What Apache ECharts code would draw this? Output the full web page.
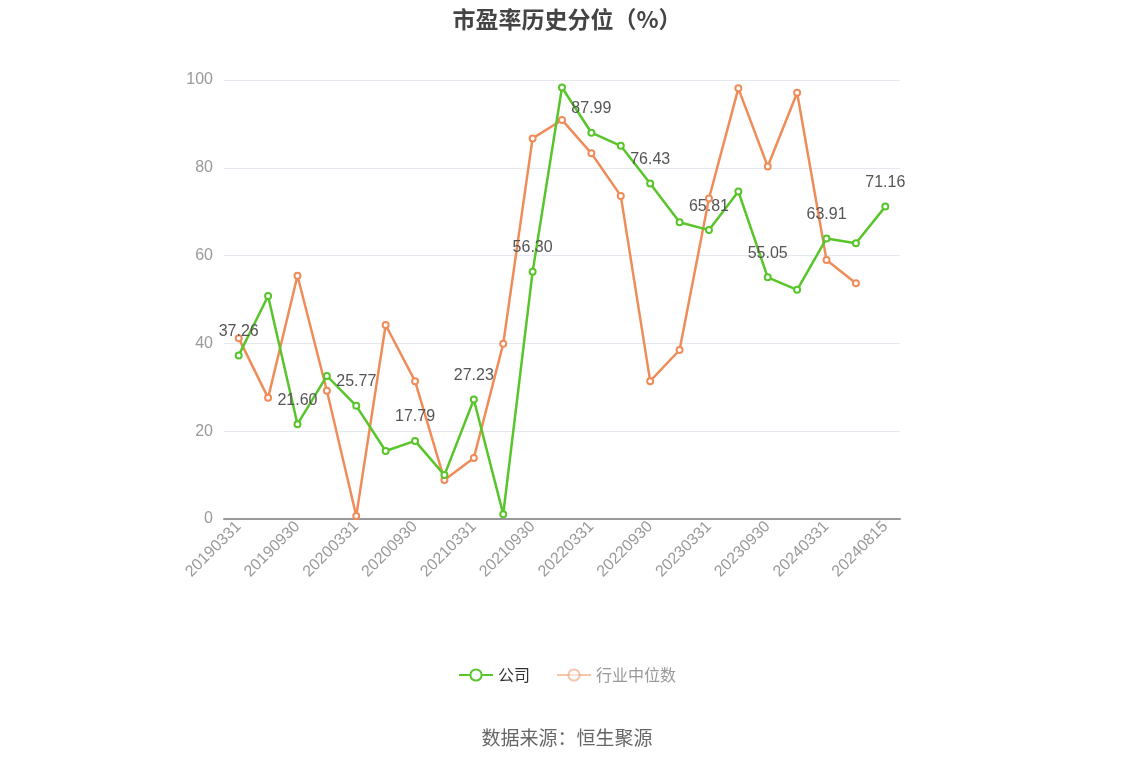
<!DOCTYPE html>
<html>
<head>
<meta charset="utf-8">
<script src="https://cdn.jsdelivr.net/npm/echarts@6/dist/echarts.min.js"></script>
<style>
  html, body { margin: 0; padding: 0; background: #fff; }
  #chart { width: 1134px; height: 766px; }
</style>
</head>
<body>
<div id="chart"></div>
<script>
// categorias del eje x (fechas de reporte)
var dates = ['20190331','20190630','20190930','20191231','20200331','20200630','20200930','20201231',
  '20210331','20210630','20210930','20211231','20220331','20220630','20220930','20221231',
  '20230331','20230630','20230930','20231231','20240331','20240630','20240815'];

// percentil PE de la empresa
var company = [37.26, 50.8, 21.60, 32.6, 25.77, 15.5, 17.79, 10.0, 27.23, 1.1, 56.30, 98.3,
  87.99, 85.0, 76.43, 67.6, 65.81, 74.6, 55.05, 52.2, 63.91, 62.8, 71.16];

// mediana de la industria (sin dato en la ultima fecha)
var industry = [41.2, 27.6, 55.4, 29.2, 0.7, 44.2, 31.4, 8.9, 13.9, 39.9, 86.7, 90.9,
  83.3, 73.6, 31.4, 38.5, 73.0, 98.1, 80.3, 97.1, 59.0, 53.7];

var yTicks = { min: 0, max: 100, interval: 20 };

var myChart = echarts.init(document.getElementById('chart'));

var option = {
  backgroundColor: '#fff',
  title: {
    text: '市盈率历史分位（%）',
    left: 'center',
    top: 3,
    textStyle: { fontSize: 23, fontWeight: 'bold', color: '#444', fontFamily: 'Noto Sans CJK SC' }
  },
  legend: {
    bottom: 78,
    left: 'center',
    itemWidth: 34,
    itemHeight: 14,
    itemGap: 26,
    textStyle: { fontSize: 16, color: '#333', fontFamily: 'Noto Sans CJK SC' },
    data: [
      { name: '公司' },
      { name: '行业中位数', textStyle: { color: '#999' },
        itemStyle: { opacity: 0.5 }, lineStyle: { opacity: 0.5 } }
    ]
  },
  grid: { left: 224, right: 234, top: 80, bottom: 247 },
  xAxis: {
    type: 'category',
    data: dates,
    boundaryGap: true,
    axisLine: { lineStyle: { color: '#999', width: 2 } },
    axisTick: { alignWithLabel: true, interval: 1, lineStyle: { color: '#999' } },
    axisLabel: { interval: 1, rotate: 45, color: '#999', fontSize: 16, margin: 5 }
  },
  yAxis: {
    type: 'value',
    min: yTicks.min,
    max: yTicks.max,
    interval: yTicks.interval,
    axisLabel: { color: '#999', fontSize: 16, margin: 11 },
    splitLine: { lineStyle: { color: '#E6E8F0' } },
    axisLine: { show: false },
    axisTick: { show: false }
  },
  graphic: [{
    type: 'text',
    left: 'center',
    top: 728,
    style: { text: '数据来源：恒生聚源', fontSize: 19, fill: '#666', fontFamily: 'Noto Sans CJK SC' }
  }],
  series: [
    {
      name: '公司',
      type: 'line',
      data: company,
      symbol: 'emptyCircle',
      symbolSize: 6,
      color: '#58C52A',
      lineStyle: { width: 2.5 },
      itemStyle: { borderWidth: 2 },
      label: {
        show: true,
        position: 'top',
        distance: 12,
        fontSize: 16,
        color: '#555',
        formatter: function (p) {
          return p.dataIndex % 2 === 0 ? p.value.toFixed(2) : '';
        }
      },
      z: 3
    },
    {
      name: '行业中位数',
      type: 'line',
      data: industry,
      symbol: 'emptyCircle',
      symbolSize: 6,
      color: '#F08C5A',
      lineStyle: { width: 2.5 },
      itemStyle: { borderWidth: 2 },
      z: 2
    }
  ]
};

myChart.setOption(option);
</script>
</body>
</html>
